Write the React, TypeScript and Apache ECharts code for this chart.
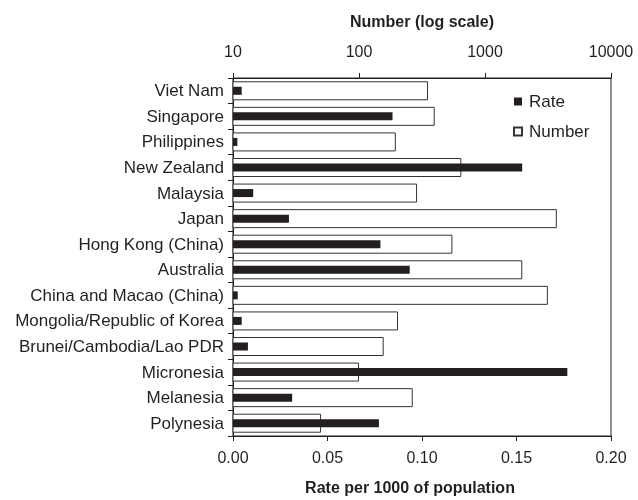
import React, { useEffect, useRef } from "react";
import * as echarts from "echarts";

const categories = [
  "Viet Nam",
  "Singapore",
  "Philippines",
  "New Zealand",
  "Malaysia",
  "Japan",
  "Hong Kong (China)",
  "Australia",
  "China and Macao (China)",
  "Mongolia/Republic of Korea",
  "Brunei/Cambodia/Lao PDR",
  "Micronesia",
  "Melanesia",
  "Polynesia",
];

const rateValues = [
  0.0046, 0.0844, 0.0023, 0.153, 0.0107, 0.0296, 0.078, 0.0935, 0.0025, 0.0046,
  0.0079, 0.1769, 0.0313, 0.0772,
];

const numberValues = [
  353, 399, 196, 649, 289, 3715, 551, 1976, 3155, 204, 157, 100, 267, 50,
];

const rateTicks = [0, 0.05, 0.1, 0.15, 0.2];
const numberTicks = [10, 100, 1000, 10000];

const FONT = "'Liberation Sans', Arial, Helvetica, sans-serif";
const INK = "#231f20";

export default function App() {
  const ref = useRef<HTMLDivElement>(null);

  useEffect(() => {
    if (!ref.current) return;
    const chart = echarts.init(ref.current, undefined, { renderer: "svg" });
    chart.setOption({
      animation: false,
      textStyle: { fontFamily: FONT, color: INK },
      grid: {
        left: 233,
        right: 27,
        top: 78,
        bottom: 56,
        show: true,
        backgroundColor: "transparent",
        borderColor: INK,
        borderWidth: 1,
        containLabel: false,
      },
      legend: {
        orient: "vertical",
        left: 508,
        top: 88,
        itemWidth: 8,
        itemHeight: 8,
        itemGap: 13,
        icon: "rect",
        textStyle: {
          fontFamily: FONT,
          fontSize: 17,
          color: INK,
          padding: [0, 0, 0, 2],
        },
        data: ["Rate", "Number"],
      },
      xAxis: [
        {
          type: "value",
          position: "bottom",
          min: rateTicks[0],
          max: rateTicks[rateTicks.length - 1],
          interval: rateTicks[1] - rateTicks[0],
          name: "Rate per 1000 of population",
          nameLocation: "middle",
          nameGap: 43,
          nameTextStyle: {
            fontFamily: FONT,
            fontSize: 16,
            fontWeight: "bold",
            color: INK,
            padding: [0, 24, 0, 0],
          },
          axisLine: { show: true, lineStyle: { color: INK, width: 1 } },
          axisTick: { show: true, length: 5, lineStyle: { color: INK } },
          axisLabel: {
            fontFamily: FONT,
            fontSize: 16,
            color: INK,
            margin: 13,
            formatter: (v: number) => v.toFixed(2),
          },
          splitLine: { show: false },
        },
        {
          type: "log",
          logBase: 10,
          position: "top",
          min: numberTicks[0],
          max: numberTicks[numberTicks.length - 1],
          name: "Number (log scale)",
          nameLocation: "middle",
          nameGap: 49,
          nameTextStyle: {
            fontFamily: FONT,
            fontSize: 16,
            fontWeight: "bold",
            color: INK,
          },
          axisLine: { show: true, lineStyle: { color: INK, width: 1 } },
          axisTick: { show: true, length: 5, lineStyle: { color: INK } },
          axisLabel: {
            fontFamily: FONT,
            fontSize: 16,
            color: INK,
            margin: 19,
            formatter: (v: number) => String(Math.round(v)),
          },
          splitLine: { show: false },
          minorTick: { show: false },
        },
      ],
      yAxis: [
        {
          type: "category",
          data: categories,
          inverse: true,
          axisLine: { show: true, lineStyle: { color: INK, width: 1 } },
          axisTick: { show: true, length: 5, lineStyle: { color: INK } },
          axisLabel: { fontFamily: FONT, fontSize: 17, color: INK, margin: 9 },
          splitLine: { show: false },
        },
        {
          type: "category",
          data: categories,
          inverse: true,
          show: false,
        },
      ],
      series: [
        {
          name: "Number",
          type: "bar",
          xAxisIndex: 1,
          yAxisIndex: 0,
          data: numberValues,
          barWidth: 19,
          clip: true,
          itemStyle: { color: "#ffffff", borderColor: "#333333", borderWidth: 1 },
        },
        {
          name: "Rate",
          type: "bar",
          xAxisIndex: 0,
          yAxisIndex: 1,
          data: rateValues,
          barWidth: 8,
          itemStyle: { color: INK },
        },
      ],
    });
    return () => chart.dispose();
  }, []);

  return (
    <div
      ref={ref}
      style={{ position: "fixed", left: 0, top: 0, width: 638, height: 500 }}
    />
  );
}
